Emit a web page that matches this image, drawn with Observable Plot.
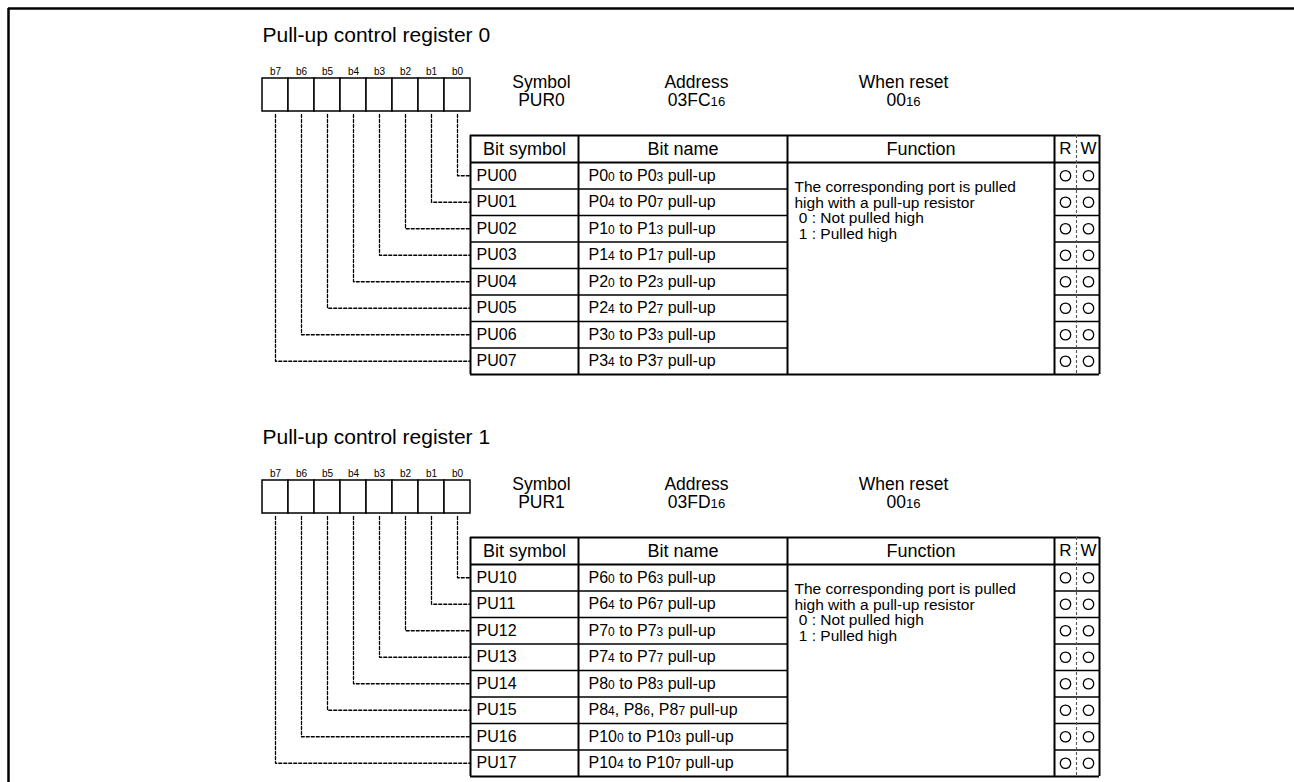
<!DOCTYPE html>
<html><head><meta charset="utf-8">
<script src="https://cdn.jsdelivr.net/npm/d3@7"></script>
<script src="https://cdn.jsdelivr.net/npm/@observablehq/plot@0.6"></script>
<style>
body{margin:0;background:#fff}
svg{display:block}
</style>
</head><body><div id="chart"></div>
<script>
// ---------- data ----------
const registerTitles = ["Pull-up control register 0", "Pull-up control register 1"];
const registerSymbols = ["PUR0", "PUR1"];
const registerAddresses = ["03FC_16", "03FD_16"];
const registerResets = ["00_16", "00_16"];
const infoHeaders = ["Symbol", "Address", "When reset"];
const bitLabels = ["b7", "b6", "b5", "b4", "b3", "b2", "b1", "b0"];
const tableHeaders = ["Bit symbol", "Bit name", "Function"];
const rwHeaders = ["R", "W"];
const bitSymbols = [
  ["PU00", "PU01", "PU02", "PU03", "PU04", "PU05", "PU06", "PU07"],
  ["PU10", "PU11", "PU12", "PU13", "PU14", "PU15", "PU16", "PU17"]
];
const bitNames = [
  ["P0_0 to P0_3 pull-up", "P0_4 to P0_7 pull-up", "P1_0 to P1_3 pull-up", "P1_4 to P1_7 pull-up",
   "P2_0 to P2_3 pull-up", "P2_4 to P2_7 pull-up", "P3_0 to P3_3 pull-up", "P3_4 to P3_7 pull-up"],
  ["P6_0 to P6_3 pull-up", "P6_4 to P6_7 pull-up", "P7_0 to P7_3 pull-up", "P7_4 to P7_7 pull-up",
   "P8_0 to P8_3 pull-up", "P8_4, P8_6, P8_7 pull-up", "P10_0 to P10_3 pull-up", "P10_4 to P10_7 pull-up"]
];
const functionLines = [
  "The corresponding port is pulled",
  "high with a pull-up resistor",
  "\u00a00 : Not pulled high",
  "\u00a01 : Pulled high"
];
const readable = [true, true, true, true, true, true, true, true];
const writable = [true, true, true, true, true, true, true, true];

// ---------- layout ----------
const W = 1294, H = 782;
const L = {
  regOffset: [0, 402],
  titleX: 262, titleY: 35,
  boxX0: 262, boxW: 26, boxTop: 78, boxBottom: 111, bitLabelY: 71,
  infoX: [541, 696, 903], infoY1: 82, infoY2: 100,
  cols: [470, 578, 787, 1054, 1099], rwMid: 1076, rwDot: [1065, 1088],
  tableTop: 135, headerH: 27, rowH: 26.5,
  funcFirst: 25, funcStep: 15.5
};
const rowY = (oy, i) => oy + L.tableTop + L.headerH + L.rowH * (i + 0.5);
const tableBottom = oy => oy + L.tableTop + L.headerH + L.rowH * bitSymbols[0].length;

const boxes = [], hLinesThick = [], hLinesThin = [], vLines = [], rwDividers = [],
      connectors = [], titles = [], bitTexts = [], infoTexts = [], headTexts = [], rwTexts = [],
      symTexts = [], nameTexts = [], funcTexts = [], dots = [];

registerTitles.forEach((title, r) => {
  const oy = L.regOffset[r];
  titles.push({x: L.titleX, y: oy + L.titleY, t: title});
  bitLabels.forEach((b, k) => {
    const x1 = L.boxX0 + k * L.boxW;
    boxes.push({x1, x2: x1 + L.boxW, y1: oy + L.boxTop, y2: oy + L.boxBottom});
    bitTexts.push({x: x1 + L.boxW / 2, y: oy + L.bitLabelY, t: b});
    const row = bitLabels.length - 1 - k;
    const cx = x1 + L.boxW / 2, ry = rowY(oy, row);
    connectors.push({x: cx, y: oy + L.boxBottom + 3, z: `${r}-${k}`});
    connectors.push({x: cx, y: ry, z: `${r}-${k}`});
    connectors.push({x: L.cols[0], y: ry, z: `${r}-${k}`});
  });
  const infoVals = [registerSymbols[r], registerAddresses[r], registerResets[r]];
  infoHeaders.forEach((h, i) => {
    infoTexts.push({x: L.infoX[i], y: oy + L.infoY1, t: h});
    infoTexts.push({x: L.infoX[i], y: oy + L.infoY2, t: infoVals[i]});
  });
  const top = oy + L.tableTop, bot = tableBottom(oy);
  hLinesThick.push({y: top, x1: L.cols[0], x2: L.cols[4]});
  hLinesThick.push({y: top + L.headerH, x1: L.cols[0], x2: L.cols[4]});
  hLinesThick.push({y: bot, x1: L.cols[0], x2: L.cols[4]});
  for (let i = 1; i < bitSymbols[r].length; i++) {
    const y = top + L.headerH + L.rowH * i;
    hLinesThin.push({y, x1: L.cols[0], x2: L.cols[2]});
    hLinesThin.push({y, x1: L.cols[3], x2: L.cols[4]});
  }
  L.cols.forEach(x => vLines.push({x, y1: top, y2: bot}));
  rwDividers.push({x: L.rwMid, y1: top, y2: bot});
  tableHeaders.forEach((h, i) => headTexts.push({x: (L.cols[i] + L.cols[i + 1]) / 2, y: top + L.headerH / 2, t: h}));
  rwHeaders.forEach((h, i) => rwTexts.push({x: L.rwDot[i], y: top + L.headerH / 2, t: h}));
  bitSymbols[r].forEach((s, i) => {
    symTexts.push({x: L.cols[0] + 6, y: rowY(oy, i), t: s});
    nameTexts.push({x: L.cols[1] + 10, y: rowY(oy, i), t: bitNames[r][i]});
    if (readable[i]) dots.push({x: L.rwDot[0], y: rowY(oy, i)});
    if (writable[i]) dots.push({x: L.rwDot[1], y: rowY(oy, i)});
  });
  functionLines.forEach((f, i) => funcTexts.push({x: L.cols[2] + 7, y: top + L.headerH + L.funcFirst + i * L.funcStep, t: f}));
});

const border = {h: [{y: 8, x1: 8, x2: W}], v: [{x: 8, y1: 8, y2: H}]};

const svg = Plot.plot({
  width: W, height: H, margin: 0,
  x: {type: "linear", domain: [0, W], range: [0, W], axis: null},
  y: {type: "linear", domain: [0, H], range: [0, H], axis: null},
  style: {fontFamily: "'Liberation Sans', Arial, sans-serif", background: "#fff"},
  marks: [
    Plot.ruleY(border.h, {y: "y", x1: "x1", x2: "x2", stroke: "black", strokeWidth: 2.5}),
    Plot.ruleX(border.v, {x: "x", y1: "y1", y2: "y2", stroke: "black", strokeWidth: 2.5}),
    Plot.line(connectors, {x: "x", y: "y", z: "z", stroke: "black", strokeWidth: 1.3, strokeDasharray: "3,2", curve: "linear"}),
    Plot.rect(boxes, {x1: "x1", x2: "x2", y1: "y1", y2: "y2", fill: "white", stroke: "black", strokeWidth: 1.5}),
    Plot.ruleY(hLinesThin, {y: "y", x1: "x1", x2: "x2", stroke: "black", strokeWidth: 1.7}),
    Plot.ruleY(hLinesThick, {y: "y", x1: "x1", x2: "x2", stroke: "black", strokeWidth: 1.9}),
    Plot.ruleX(vLines, {x: "x", y1: "y1", y2: "y2", stroke: "black", strokeWidth: 2}),
    Plot.ruleX(rwDividers, {x: "x", y1: "y1", y2: "y2", stroke: "#555", strokeWidth: 1.1, strokeDasharray: "3,2"}),
    Plot.dot(dots, {x: "x", y: "y", r: 5.2, stroke: "black", fill: "none", strokeWidth: 1.3}),
    Plot.text(titles, {x: "x", y: "y", text: "t", textAnchor: "start", fontSize: 21, fill: "black"}),
    Plot.text(bitTexts, {x: "x", y: "y", text: "t", fontSize: 10, fill: "black"}),
    Plot.text(infoTexts, {x: "x", y: "y", text: "t", fontSize: 17.5, fill: "black"}),
    Plot.text(headTexts, {x: "x", y: "y", text: "t", fontSize: 18, fill: "black"}),
    Plot.text(rwTexts, {x: "x", y: "y", text: "t", fontSize: 17, fill: "black"}),
    Plot.text(symTexts, {x: "x", y: "y", text: "t", textAnchor: "start", fontSize: 16, fill: "black"}),
    Plot.text(nameTexts, {x: "x", y: "y", text: "t", textAnchor: "start", fontSize: 16, fill: "black"}),
    Plot.text(funcTexts, {x: "x", y: "y", text: "t", textAnchor: "start", fontSize: 15.5, fill: "black"})
  ]
});

// subscripts: "_NN" markers become smaller tspans
svg.querySelectorAll("text, tspan").forEach(el => {
  if (el.children.length === 0 && el.textContent.includes("_")) {
    const parts = el.textContent.split(/_(\d+)/);
    el.textContent = "";
    parts.forEach((p, i) => {
      if (!p) return;
      const t = document.createElementNS("http://www.w3.org/2000/svg", "tspan");
      t.textContent = p;
      if (i % 2 === 1) t.style.fontSize = "0.75em";
      el.appendChild(t);
    });
  }
});

document.getElementById("chart").appendChild(svg);
</script>
</body></html>
